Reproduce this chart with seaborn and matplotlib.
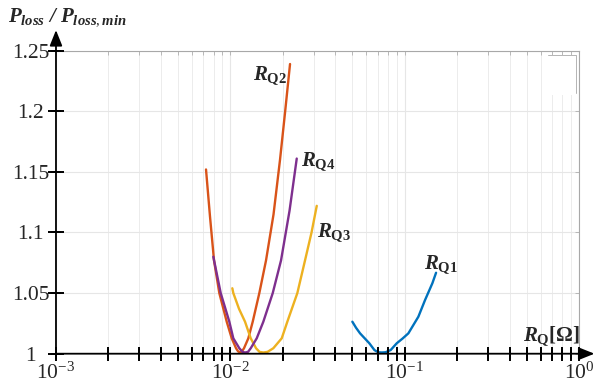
import numpy as np
import pandas as pd
import seaborn as sns
import matplotlib
matplotlib.use("Agg")
import matplotlib.pyplot as plt
from matplotlib.ticker import FixedLocator, FuncFormatter, NullFormatter
from matplotlib.patches import Rectangle
from matplotlib.lines import TICKDOWN, TICKLEFT

# Quiescent resistance sweep (ohm) and normalised loss P_loss / P_loss,min
rq1_r = [0.0500, 0.052505, 0.05535, 0.06257, 0.06692, 0.07020, 0.07371, 0.07750,
         0.08291, 0.08985, 0.097008, 0.10474, 0.11951, 0.13056, 0.14377, 0.15097]
rq1_p = [1.0264, 1.0214, 1.0168, 1.0086, 1.003, 1.0012, 1.001, 1.0012,
         1.003, 1.0086, 1.0125, 1.0168, 1.0305, 1.0443, 1.0581, 1.0668]

rq2_r = [0.0072456, 0.0076385, 0.0080519, 0.0086358, 0.0095232, 0.010173, 0.010768,
         0.011054, 0.011350, 0.011654, 0.011966, 0.012665, 0.013422, 0.014645,
         0.016000, 0.017667, 0.019245, 0.020564, 0.021966]
rq2_p = [1.152, 1.113, 1.077, 1.050, 1.0264, 1.0127, 1.0045,
         1.002, 1.001, 1.002, 1.0045, 1.0127, 1.0264, 1.050,
         1.077, 1.115, 1.160, 1.199, 1.239]

rq3_r = [0.010254, 0.010390, 0.011202, 0.012126, 0.013074, 0.014022, 0.014684,
         0.015440, 0.016320, 0.017620, 0.019686, 0.021197, 0.024188, 0.026773,
         0.029174, 0.031259]
rq3_p = [1.054, 1.050, 1.037, 1.0264, 1.0127, 1.0045, 1.0015,
         1.001, 1.0015, 1.0045, 1.0127, 1.0264, 1.050, 1.077,
         1.100, 1.122]

rq4_r = [0.007979, 0.0087973, 0.0098558, 0.010390, 0.011247, 0.011732, 0.012126,
         0.012616, 0.013074, 0.014151, 0.015440, 0.017481, 0.019505, 0.021822,
         0.023998]
rq4_p = [1.080, 1.050, 1.0264, 1.0127, 1.0045, 1.0015, 1.001,
         1.0015, 1.0045, 1.0127, 1.0264, 1.050, 1.077, 1.118,
         1.161]

curve_names = ["RQ1", "RQ2", "RQ3", "RQ4"]
curve_colors = ["#0072BD", "#D95319", "#EDB120", "#7E2F8E"]

y_ticks = [1.0, 1.05, 1.1, 1.15, 1.2, 1.25]
y_tick_labels = ["1", "1.05", "1.1", "1.15", "1.2", "1.25"]
x_decades = [1e-3, 1e-2, 1e-1, 1e0]

# curve labels: (text, x, y baseline)
curve_labels = [
    (r"$R_{\mathbf{Q1}}$", 0.1288, 1.071),
    (r"$R_{\mathbf{Q2}}$", 0.01348, 1.2264),
    (r"$R_{\mathbf{Q3}}$", 0.03126, 1.0971),
    (r"$R_{\mathbf{Q4}}$", 0.02541, 1.1557),
]

sns.set_style("white")
plt.rcParams["font.family"] = ["Liberation Serif", "DejaVu Serif"]
plt.rcParams["mathtext.fontset"] = "custom"
plt.rcParams["mathtext.rm"] = "Liberation Serif"
plt.rcParams["mathtext.it"] = "Liberation Serif:italic:bold"
plt.rcParams["mathtext.bf"] = "Liberation Serif:bold"

df = pd.concat([
    pd.DataFrame({"R": r, "P": p, "curve": n})
    for n, r, p in zip(curve_names, [rq1_r, rq2_r, rq3_r, rq4_r],
                       [rq1_p, rq2_p, rq3_p, rq4_p])
], ignore_index=True)

fig = plt.figure(figsize=(5.95, 3.92), dpi=100)
ax = fig.add_axes([0.0941, 0.0977, 0.8795, 0.773])

sns.lineplot(data=df, x="R", y="P", hue="curve", hue_order=curve_names,
             palette=curve_colors, estimator=None, sort=False, legend=False,
             lw=1.7, ax=ax, zorder=3)

ax.set_xscale("log")
ax.set_xlim(x_decades[0], x_decades[-1])
ax.set_ylim(y_ticks[0], y_ticks[-1])
ax.set_xlabel("")
ax.set_ylabel("")

# all decade subdivisions 1..9 x 10^k
x_minor = [k * d for d in x_decades[:-1] for k in range(2, 10)]
x_all = sorted(x_minor + list(x_decades))

ax.xaxis.set_major_locator(FixedLocator(x_decades))
ax.xaxis.set_minor_locator(FixedLocator(x_minor))
ax.xaxis.set_major_formatter(FuncFormatter(
    lambda v, pos: r"$\mathregular{10^{%d}}$" % int(round(np.log10(v)))))
ax.xaxis.set_minor_formatter(NullFormatter())
ax.yaxis.set_major_locator(FixedLocator(y_ticks))
ax.set_yticklabels(y_tick_labels)

ax.set_axisbelow(True)
ax.grid(True, which="major", color="#e6e6e6", lw=0.8)
ax.grid(True, which="minor", axis="x", color="#ececec", lw=0.7)

for side in ["top", "right"]:
    ax.spines[side].set_color("#a8a8a8")
    ax.spines[side].set_linewidth(0.8)
for side in ["left", "bottom"]:
    ax.spines[side].set_visible(False)

ax.tick_params(axis="both", which="both", direction="inout", length=7.2,
               width=1.1, color="black", labelsize=15.5,
               bottom=True, left=True, top=False, right=False)
ax.tick_params(axis="x", which="both", pad=3)
ax.tick_params(axis="y", which="both", pad=14.5)
plt.setp(ax.get_yticklabels(), ha="center")

# crossing tick marks on the two black axes
ax.plot(x_all, [y_ticks[0]] * len(x_all), ls="none", marker="|", ms=10,
        mew=1.4, color="black", clip_on=False, zorder=6)
ax.plot([x_decades[0]] * len(y_ticks), y_ticks, ls="none", marker="_", ms=12,
        mew=1.4, color="black", clip_on=False, zorder=6)
# faint inward ticks on the grey top and right frame
ax.plot(x_all, [y_ticks[-1]] * len(x_all), ls="none", marker=TICKDOWN, ms=3,
        mew=0.6, color="#b0b0b0", clip_on=False, zorder=2)
ax.plot([x_decades[-1]] * len(y_ticks), y_ticks, ls="none", marker=TICKLEFT,
        ms=3, mew=0.6, color="#b0b0b0", clip_on=False, zorder=2)

# axis arrows
arrow_kw = dict(arrowstyle="-|>,head_length=0.95,head_width=0.38",
                color="black", lw=1.3, shrinkA=0, shrinkB=0)
ax.annotate("", xy=(0, 1.068), xytext=(0, 0), xycoords="axes fraction",
            arrowprops=arrow_kw, annotation_clip=False)
ax.annotate("", xy=(1.029, 0), xytext=(0, 0), xycoords="axes fraction",
            arrowprops=arrow_kw, annotation_clip=False)

# empty legend frame in the upper-right corner
ax.add_patch(Rectangle((0.934, 0.854), 0.06, 0.132, transform=ax.transAxes,
                       facecolor="white", edgecolor="none", zorder=2))
ax.plot([0.94, 0.994, 0.994], [0.986, 0.986, 0.86], transform=ax.transAxes,
        color="#b4b4b4", lw=0.7, zorder=2)

for txt, xv, yv in curve_labels:
    ax.text(xv, yv, txt, fontsize=15, ha="left", va="baseline", zorder=4)

ax.text(0.474, 1.0113, r"$R_{\mathbf{Q}}\mathbf{[\Omega]}$", fontsize=15,
        ha="left", va="baseline", zorder=4)

fig.text(8 / 595, 1 - 21 / 392, r"$P_{loss}$ / $P_{loss,min}$", fontsize=15,
         fontweight="bold", fontstyle="italic", ha="left", va="baseline")

fig.savefig("out.png", dpi=100)
